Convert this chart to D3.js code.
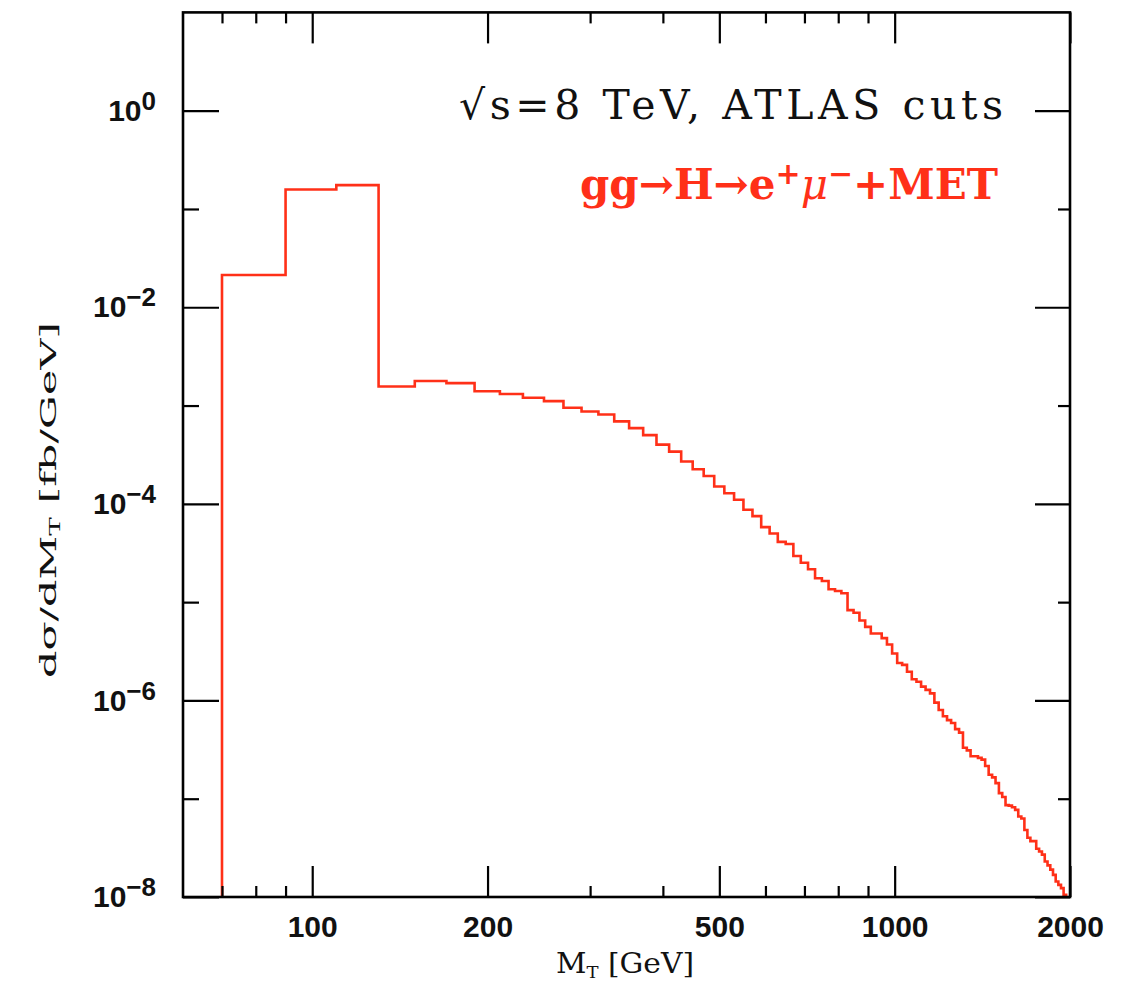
<!DOCTYPE html>
<html>
<head>
<meta charset="utf-8">
<script src="https://cdn.jsdelivr.net/npm/d3@7"></script>
<style>
body { margin: 0; background: #fff; }
</style>
</head>
<body>
<svg width="1127" height="984"></svg>
<script>

// bin edges of the M_T histogram [GeV]
var binEdges = [
  70, 90, 110, 130, 150, 170, 190, 210, 230, 250, 270, 290, 310, 330, 350, 370, 390, 410, 430, 450,
  470, 490, 510, 530, 550, 570, 590, 610, 630, 650, 670, 690, 710, 730, 750, 770, 790, 810, 830, 850,
  870, 890, 910, 930, 950, 970, 990, 1010, 1030, 1050, 1070, 1090, 1110, 1130, 1150, 1170, 1190, 1210,
  1230, 1250, 1270, 1290, 1310, 1330, 1350, 1370, 1390, 1410, 1430, 1450, 1470, 1490, 1510, 1530, 1550,
  1570, 1590, 1610, 1630, 1650, 1670, 1690, 1710, 1730, 1750, 1770, 1790, 1810, 1830, 1850, 1870, 1890,
  1910, 1930, 1950, 1970, 1990
]

// dsigma/dM_T [fb/GeV], one value per bin
var dsdm = [
  2.13e-2, 1.58e-1, 1.75e-1,
  1.56e-3, 1.78e-3, 1.69e-3, 1.40e-3, 1.31e-3, 1.20e-3, 1.11e-3, 9.5e-4, 8.7e-4, 8.1e-4,
  6.9e-4, 5.9e-4, 5.0e-4, 4.0e-4, 3.4e-4, 2.7e-4, 2.25e-4, 1.92e-4, 1.50e-4, 1.28e-4,
  1.10e-4, 8.7e-5, 7.5e-5, 5.8e-5, 5.0e-5, 4.1e-5, 3.9e-5, 2.95e-5, 2.52e-5, 2.16e-5,
  1.75e-5, 1.64e-5, 1.35e-5, 1.30e-5, 1.23e-5, 8.3e-6, 7.8e-6, 6.5e-6, 5.6e-6, 4.8e-6,
  4.8e-6, 4.3e-6, 3.7e-6, 3.0e-6, 2.4e-6, 2.3e-6, 1.96e-6, 1.64e-6, 1.55e-6, 1.38e-6,
  1.28e-6, 1.18e-6, 9.5e-7, 8.0e-7, 6.9e-7, 6.3e-7, 5.9e-7, 5.1e-7, 4.7e-7, 3.3e-7,
  3.1e-7, 2.7e-7, 2.7e-7, 2.6e-7, 2.5e-7, 2.15e-7, 1.75e-7, 1.65e-7, 1.44e-7, 1.14e-7,
  1.04e-7, 8.6e-8, 8.5e-8, 8.2e-8, 7.7e-8, 6.6e-8, 6.3e-8, 4.8e-8, 4.0e-8, 3.7e-8,
  3.7e-8, 3.1e-8, 2.9e-8, 2.7e-8, 2.3e-8, 2.1e-8, 1.9e-8, 1.68e-8, 1.44e-8, 1.33e-8,
  1.23e-8, 1.05e-8, 9e-9
]

// ticks
var xMajor = [100, 200, 500, 1000, 2000]
var xMinor = [70, 80, 90, 300, 400, 600, 700, 800, 900]
var yLabelled = [1, 1e-2, 1e-4, 1e-6, 1e-8]
var yLabelExp = ['0', '\u22122', '\u22124', '\u22126', '\u22128']
var yOdd = [1e-1, 1e-3, 1e-5, 1e-7]

var titleText = '\u221As=8 TeV, ATLAS cuts'

var svg = d3.select('svg')

// plot frame (note: "top" is reserved on window, so use other names)
var pLeft = 183, pRight = 1070, pTop = 12.4, pBottom = 897
var red = '#ff3018'
var tickFont = 'Liberation Sans, Arial, sans-serif'
var serif = 'DejaVu Serif, serif'

var x = d3.scaleLog().domain([60, 2000]).range([pLeft, pRight])
var y = d3.scaleLog().domain([1e-8, 10]).range([pBottom, pTop])

// clip for the histogram
svg.append('clipPath').attr('id', 'plotclip')
  .append('rect')
  .attr('x', pLeft).attr('y', pTop)
  .attr('width', pRight - pLeft).attr('height', pBottom - pTop)

// histogram as a step line
var pts = [[binEdges[0], y.domain()[0] / 10]]
dsdm.forEach(function(v, i){ pts.push([binEdges[i], v]) })
pts.push([binEdges[binEdges.length - 1], dsdm[dsdm.length - 1]])
pts.push([binEdges[binEdges.length - 1], y.domain()[0] / 10])

var line = d3.line()
  .x(function(d){ return x(d[0]) })
  .y(function(d){ return y(d[1]) })
  .curve(d3.curveStepAfter)

svg.append('path')
  .datum(pts)
  .attr('d', line)
  .attr('fill', 'none')
  .attr('stroke', red)
  .attr('stroke-width', 2.6)
  .attr('clip-path', 'url(#plotclip)')

// axes, ticks pointing inward
function styleAxis(g){
  g.select('.domain').remove()
  g.selectAll('.tick line').attr('stroke', '#000').attr('stroke-width', 2.2)
}

// bottom
svg.append('g').attr('transform', 'translate(0,' + pBottom + ')')
  .call(d3.axisBottom(x).tickValues(xMajor).tickSize(-31).tickPadding(19)
        .tickFormat(function(d){ return d }))
  .call(styleAxis)
  .selectAll('text')
  .attr('font-family', tickFont).attr('font-weight', 'bold')
  .attr('font-size', 30).attr('fill', '#111')

svg.append('g').attr('transform', 'translate(0,' + pBottom + ')')
  .call(d3.axisBottom(x).tickValues(xMinor).tickSize(-11).tickFormat(''))
  .call(styleAxis)

// top
svg.append('g').attr('transform', 'translate(0,' + pTop + ')')
  .call(d3.axisTop(x).tickValues(xMajor).tickSize(-31).tickFormat(''))
  .call(styleAxis)
svg.append('g').attr('transform', 'translate(0,' + pTop + ')')
  .call(d3.axisTop(x).tickValues(xMinor).tickSize(-11).tickFormat(''))
  .call(styleAxis)

// left
var yAx = svg.append('g').attr('transform', 'translate(' + pLeft + ',0)')
  .call(d3.axisLeft(y).tickValues(yLabelled).tickSize(-36).tickPadding(27)
        .tickFormat(function(d){ return '' }))
  .call(styleAxis)

yAx.selectAll('.tick text').each(function(d, i){
  var t = d3.select(this)
    .attr('font-family', tickFont).attr('font-weight', 'bold')
    .attr('font-size', 30).attr('fill', '#111')
  t.append('tspan').text('10')
  t.append('tspan').attr('dy', '-0.42em').attr('font-size', 26).text(yLabelExp[i])
})

svg.append('g').attr('transform', 'translate(' + pLeft + ',0)')
  .call(d3.axisLeft(y).tickValues(yOdd).tickSize(-16).tickFormat(''))
  .call(styleAxis)

// right
svg.append('g').attr('transform', 'translate(' + pRight + ',0)')
  .call(d3.axisRight(y).tickValues(yLabelled).tickSize(-35).tickFormat(''))
  .call(styleAxis)
svg.append('g').attr('transform', 'translate(' + pRight + ',0)')
  .call(d3.axisRight(y).tickValues(yOdd).tickSize(-12).tickFormat(''))
  .call(styleAxis)

// frame
svg.append('rect')
  .attr('x', pLeft).attr('y', pTop)
  .attr('width', pRight - pLeft).attr('height', pBottom - pTop)
  .attr('fill', 'none').attr('stroke', '#000').attr('stroke-width', 2.6)

// annotations
svg.append('text')
  .attr('x', 1003).attr('y', 119)
  .attr('text-anchor', 'end')
  .attr('font-family', serif).attr('font-size', 41)
  .attr('fill', '#111')
  .attr('textLength', 544).attr('lengthAdjust', 'spacing')
  .text(titleText)

var proc = svg.append('text')
  .attr('x', 998).attr('y', 199)
  .attr('text-anchor', 'end')
  .attr('font-family', serif).attr('font-size', 42).attr('font-weight', 'bold')
  .attr('fill', red)
  .attr('textLength', 418).attr('lengthAdjust', 'spacingAndGlyphs')
proc.append('tspan').text('gg\u2192H\u2192e')
proc.append('tspan').attr('dy', -15).attr('font-size', 30).text('+')
proc.append('tspan').attr('dy', 15).attr('font-style', 'italic').attr('font-weight', 'normal').text('\u03BC')
proc.append('tspan').attr('dy', -15).attr('font-size', 30).text('\u2212')
proc.append('tspan').attr('dy', 15).text('+MET')

// axis titles
var xt = svg.append('text')
  .attr('x', 625).attr('y', 973)
  .attr('text-anchor', 'middle')
  .attr('font-family', serif).attr('font-size', 28)
  .attr('fill', '#111')
  .attr('textLength', 138).attr('lengthAdjust', 'spacingAndGlyphs')
xt.append('tspan').text('M')
xt.append('tspan').attr('dy', 5).attr('font-size', 17).text('T')
xt.append('tspan').attr('dy', -5).text(' [GeV]')

var yt = svg.append('text')
  .attr('transform', 'translate(56,500) rotate(-90)')
  .attr('text-anchor', 'middle')
  .attr('font-family', serif).attr('font-size', 23)
  .attr('fill', '#111')
  .attr('textLength', 356).attr('lengthAdjust', 'spacingAndGlyphs')
yt.append('tspan').text('d\u03C3/dM')
yt.append('tspan').attr('dy', 4).attr('font-size', 15).text('T')
yt.append('tspan').attr('dy', -4).text(' [fb/GeV]')

</script>
</body>
</html>
